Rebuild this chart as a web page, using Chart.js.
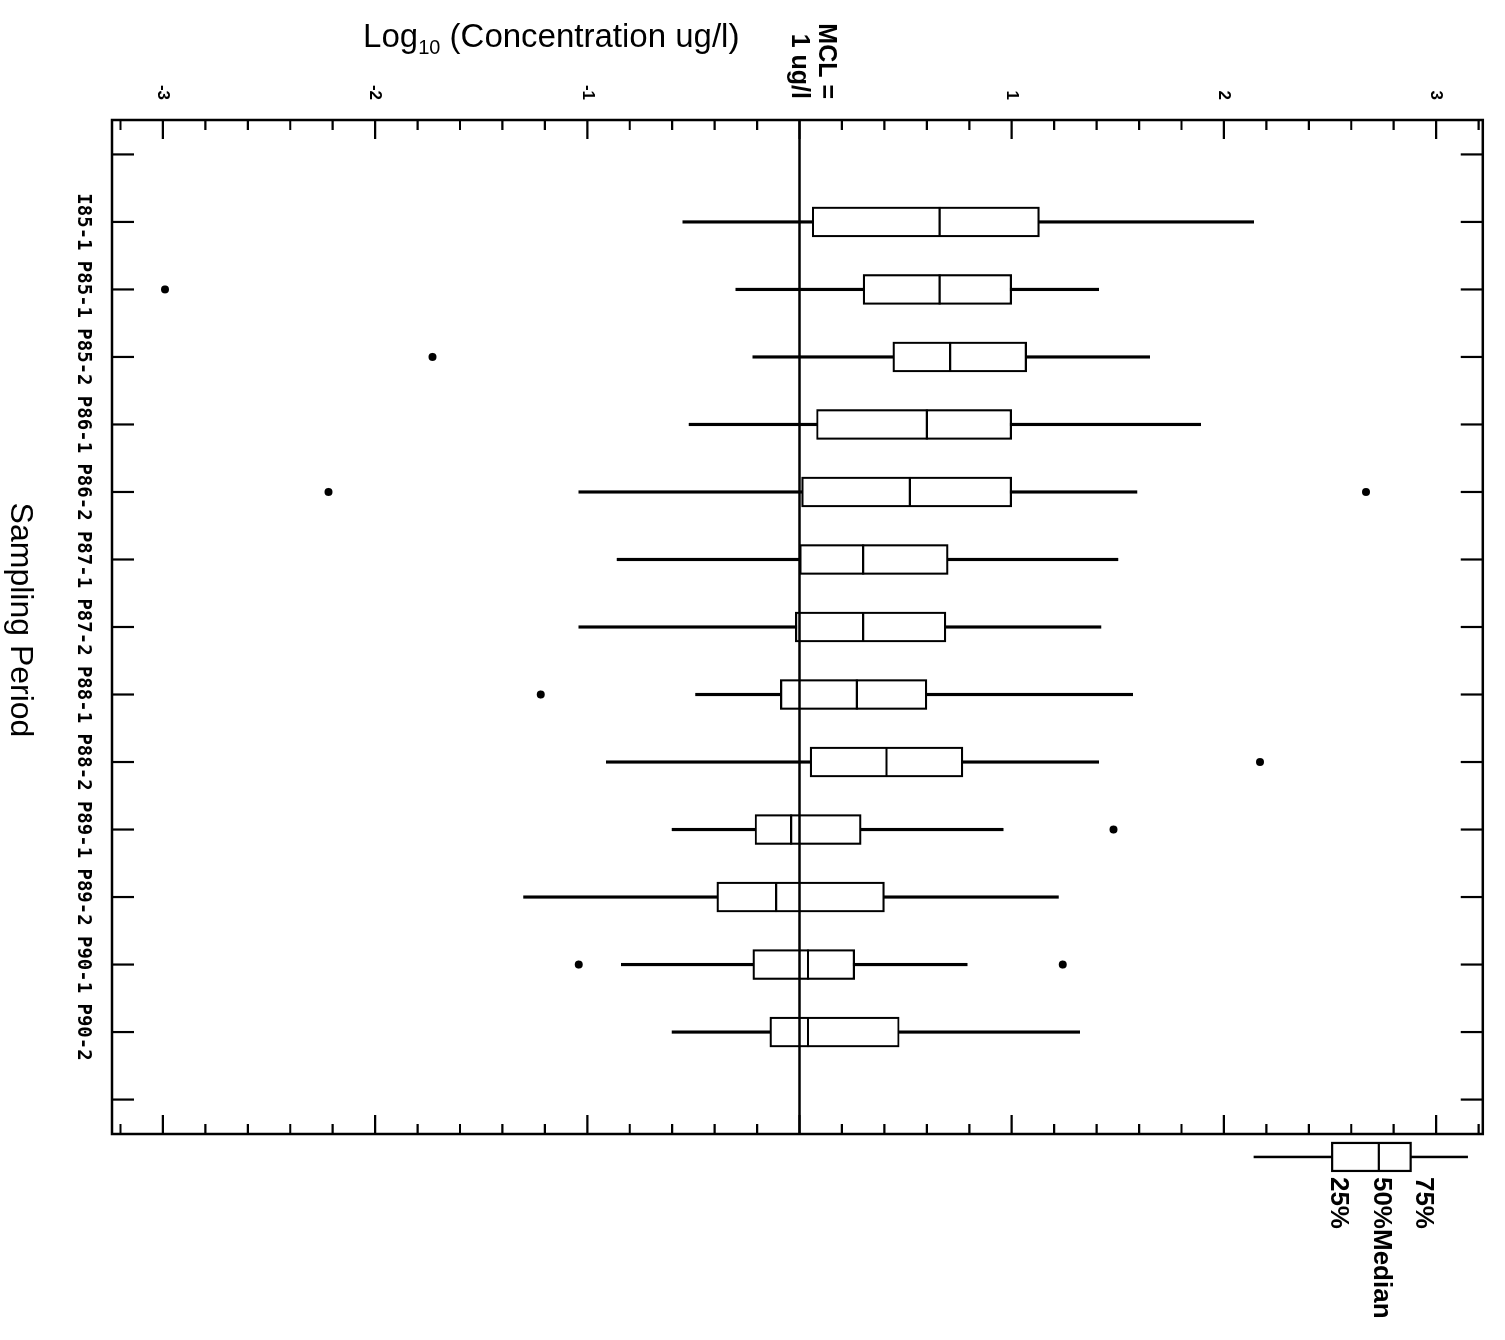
<!DOCTYPE html>
<html lang="en">
<head>
<meta charset="UTF-8">
<title>Log10 Concentration by Sampling Period</title>
<script src="https://cdn.jsdelivr.net/npm/chart.js"></script>
<style>
    html, body { margin: 0; padding: 0; background: #fff; overflow: hidden; }
    body { width: 1505px; height: 1340px; position: relative; }
    /* chart is built upright, then turned a quarter turn like the printed page */
    #wrap {
        position: absolute; left: 0; top: 0;
        width: 1340px; height: 1505px;
        transform-origin: 0 0;
        transform: translateX(1505px) rotate(90deg);
    }
</style>
</head>
<body>
<div id="wrap"><canvas id="boxChart" width="1340" height="1505"></canvas></div>

<script>
// Sampling periods (one box each)
const periods = ['I85-1', 'P85-1', 'P85-2', 'P86-1', 'P86-2', 'P87-1', 'P87-2',
                 'P88-1', 'P88-2', 'P89-1', 'P89-2', 'P90-1', 'P90-2'];

// log10 concentration (ug/l)
const whiskerLow  = [-0.55, -0.30, -0.22, -0.52, -1.04, -0.86, -1.04, -0.49, -0.91, -0.60, -1.30, -0.84, -0.60];
const q1          = [ 0.06,  0.30,  0.44,  0.08,  0.01,  0.00, -0.02, -0.09,  0.05, -0.21, -0.39, -0.22, -0.14];
const medians     = [ 0.66,  0.66,  0.71,  0.60,  0.52,  0.30,  0.30,  0.27,  0.41, -0.04, -0.11,  0.04,  0.04];
const q3          = [ 1.13,  1.00,  1.07,  1.00,  1.00,  0.70,  0.69,  0.60,  0.77,  0.29,  0.40,  0.26,  0.47];
const whiskerHigh = [ 2.14,  1.41,  1.65,  1.89,  1.59,  1.50,  1.42,  1.57,  1.41,  0.96,  1.22,  0.79,  1.32];

// outliers: period index and value
const outlierPeriod = [1, 2, 4, 4, 7, 8, 9, 11, 11];
const outlierValue  = [-2.99, -1.73, -2.22, 2.67, -1.22, 2.17, 1.48, -1.04, 1.24];

// axis ticks
const valueLabels = [-3, -2, -1, 1, 2, 3];
const periodTicks = [-1, 0, 1, 2, 3, 4, 5, 6, 7, 8, 9, 10, 11, 12, 13];
const mclValue = 0;   // log10(1 ug/l)

// key box: low whisker, 25%, median, 75%, high whisker
const legendStats = [2.14, 2.51, 2.73, 2.88, 3.15];
const legendRow = 13.85;
const legendLabels = ['25%', '50%Median', '75%'];
const legendLabelAt = [2.54, 2.74, 2.94];

const valueTicks = [];
for (let k = -16; k <= 16; k++) valueTicks.push(k / 5);

const INK = '#000';
const SANS = '"Liberation Sans", Arial, sans-serif';

const boxPlotFrame = {
    id: 'boxPlotFrame',
    afterDraw(chart) {
        const ctx = chart.ctx;
        const a = chart.chartArea;
        const x = chart.scales.x;
        const y = chart.scales.y;
        ctx.save();
        ctx.strokeStyle = INK;
        ctx.fillStyle = INK;

        // MCL line
        const my = y.getPixelForValue(mclValue);
        ctx.lineWidth = 2.5;
        ctx.beginPath();
        ctx.moveTo(a.left, my);
        ctx.lineTo(a.right, my);
        ctx.stroke();

        // frame
        ctx.lineWidth = 2.5;
        ctx.strokeRect(a.left, a.top, a.right - a.left, a.bottom - a.top);

        // inward ticks
        ctx.lineWidth = 2.2;
        ctx.beginPath();
        y.ticks.forEach(t => {
            const p = y.getPixelForValue(t.value);
            const major = Math.abs(t.value - Math.round(t.value)) < 1e-6;
            const len = major ? 19 : 10;
            ctx.moveTo(a.left, p); ctx.lineTo(a.left + len, p);
            ctx.moveTo(a.right, p); ctx.lineTo(a.right - len, p);
        });
        x.ticks.forEach(t => {
            const p = x.getPixelForValue(t.value);
            ctx.moveTo(p, a.bottom); ctx.lineTo(p, a.bottom - 22);
            ctx.moveTo(p, a.top); ctx.lineTo(p, a.top + 22);
        });
        ctx.stroke();

        // MCL label in place of the 0 tick label
        ctx.font = 'bold 25px ' + SANS;
        ctx.textAlign = 'right';
        ctx.textBaseline = 'alphabetic';
        ctx.fillText('MCL =', 99, my - 19);
        ctx.fillText('1 ug/l', 99, my + 8);

        // value axis title with subscript
        const parts = [['Log', '33px ' + SANS, 0], ['10', '20px ' + SANS, 7], [' (Concentration ug/l)', '33px ' + SANS, 0]];
        let total = 0;
        parts.forEach(p => { ctx.font = p[1]; total += ctx.measureText(p[0]).width; });
        ctx.save();
        ctx.translate(47, y.getPixelForValue(-1.17));
        ctx.rotate(-Math.PI / 2);
        ctx.textAlign = 'left';
        let tx = -total / 2;
        parts.forEach(p => {
            ctx.font = p[1];
            ctx.fillText(p[0], tx, p[2]);
            tx += ctx.measureText(p[0]).width;
        });
        ctx.restore();

        // period axis title
        ctx.font = '32px ' + SANS;
        ctx.textAlign = 'center';
        ctx.fillText('Sampling Period', (a.left + a.right) / 2 - 7, 1494);

        // key box
        const lu = x.getPixelForValue(legendRow);
        const [lo, lq1, lmed, lq3, hi] = legendStats.map(v => y.getPixelForValue(v));
        ctx.lineWidth = 2.5;
        ctx.beginPath();
        ctx.moveTo(lu, lo); ctx.lineTo(lu, hi);
        ctx.stroke();
        ctx.fillStyle = '#fff';
        ctx.fillRect(lu - 14, lq3, 28, lq1 - lq3);
        ctx.lineWidth = 2.2;
        ctx.strokeRect(lu - 14, lq3, 28, lq1 - lq3);
        ctx.beginPath();
        ctx.moveTo(lu - 14, lmed); ctx.lineTo(lu + 14, lmed);
        ctx.stroke();
        ctx.fillStyle = INK;
        ctx.font = 'bold 26px ' + SANS;
        ctx.textAlign = 'left';
        ctx.textBaseline = 'middle';
        legendLabels.forEach((s, i) => {
            ctx.fillText(s, lu + 20, y.getPixelForValue(legendLabelAt[i]));
        });

        ctx.restore();
    }
};

const boxData = periods.map((p, i) => ({ x: i, y: [q1[i], q3[i]] }));
const whiskerData = periods.map((p, i) => ({ x: i, y: [whiskerLow[i], whiskerHigh[i]] }));
const medianData = periods.map((p, i) => ({ x: i, y: medians[i] }));
const outlierData = outlierPeriod.map((p, k) => ({ x: p, y: outlierValue[k] }));

new Chart(document.getElementById('boxChart'), {
    type: 'bar',
    data: {
        datasets: [
            {
                label: 'Interquartile range',
                data: boxData,
                backgroundColor: '#fff',
                borderColor: INK,
                borderWidth: 2.2,
                borderSkipped: false,
                barThickness: 30,
                grouped: false,
                order: 2
            },
            {
                label: 'Range',
                data: whiskerData,
                backgroundColor: INK,
                borderWidth: 0,
                barThickness: 2.5,
                grouped: false,
                order: 3
            },
            {
                type: 'scatter',
                label: 'Median',
                data: medianData,
                pointStyle: 'line',
                pointRadius: 15,
                pointBorderColor: INK,
                pointBorderWidth: 2.2,
                order: 1
            },
            {
                type: 'scatter',
                label: 'Outliers',
                data: outlierData,
                pointStyle: 'circle',
                pointRadius: 4,
                pointBackgroundColor: INK,
                pointBorderColor: INK,
                pointBorderWidth: 0,
                order: 1
            }
        ]
    },
    options: {
        responsive: false,
        animation: false,
        devicePixelRatio: 1,
        events: [],
        layout: { padding: { left: 0, top: 17, right: 206, bottom: 0 } },
        plugins: {
            legend: { display: false },
            tooltip: { enabled: false }
        },
        scales: {
            x: {
                type: 'linear',
                position: 'bottom',
                min: -1.51,
                max: 13.51,
                bounds: 'data',
                offset: false,
                grid: { display: false },
                border: { display: false },
                afterBuildTicks: s => { s.ticks = periodTicks.map(v => ({ value: v })); },
                afterFit: s => { s.height = 112; },
                ticks: {
                    autoSkip: false,
                    maxRotation: 0,
                    minRotation: 0,
                    padding: 10,
                    color: INK,
                    font: { family: '"DejaVu Sans Mono", monospace', size: 19, weight: 'bold' },
                    callback: v => periods[v] ?? ''
                }
            },
            y: {
                type: 'linear',
                position: 'left',
                min: -3.24,
                max: 3.22,
                bounds: 'data',
                grid: { display: false },
                border: { display: false },
                afterBuildTicks: s => { s.ticks = valueTicks.map(v => ({ value: v })); },
                afterFit: s => { s.width = 120; },
                ticks: {
                    autoSkip: false,
                    padding: 12,
                    color: INK,
                    font: { family: SANS, size: 17, weight: 'bold' },
                    callback: v => {
                        const r = Math.round(v);
                        return Math.abs(v - r) < 1e-6 && valueLabels.includes(r) ? String(r) : '';
                    }
                }
            }
        }
    },
    plugins: [boxPlotFrame]
});
</script>
</body>
</html>
